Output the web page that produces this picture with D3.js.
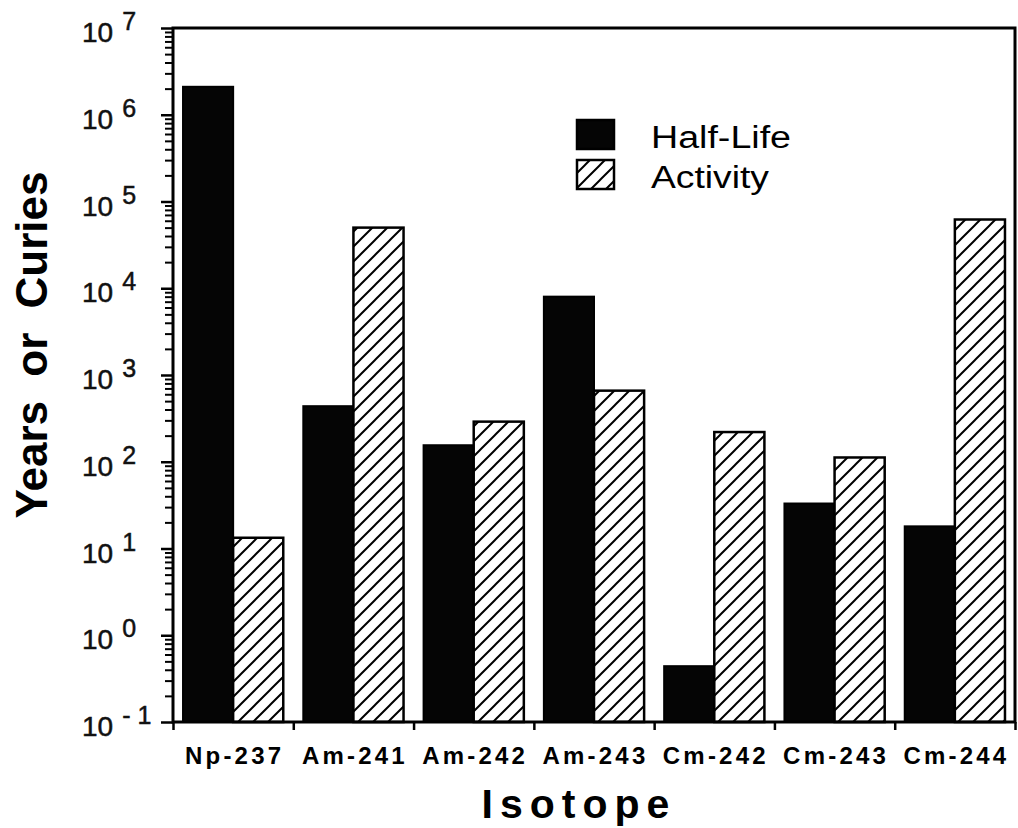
<!DOCTYPE html>
<html>
<head>
<meta charset="utf-8">
<script src="https://cdn.jsdelivr.net/npm/d3@7"></script>
<style>
  html, body { margin: 0; padding: 0; background: #fff; }
  svg { display: block; font-family: "Liberation Sans", Arial, Helvetica, sans-serif; }
</style>
</head>
<body>
<svg id="chart" width="1018" height="828"></svg>
<script>
// ---- data ----
const isotopes = ["Np-237", "Am-241", "Am-242", "Am-243", "Cm-242", "Cm-243", "Cm-244"];
const halfLife = [2.1e6, 437, 155, 8000, 0.44, 33, 18];
const activity = [13.3, 50000, 290, 660, 220, 112, 62000];
const seriesNames = ["Half-Life", "Activity"];
const decadeExponents = [-1, 0, 1, 2, 3, 4, 5, 6, 7];

// ---- layout ----
const svg = d3.select("#chart");
const plotLeft = 173, plotRight = 1015, plotTop = 28, plotBottom = 722;

const x = d3.scaleBand().domain(isotopes).range([plotLeft, plotRight]).padding(0);
const xs = d3.scaleBand().domain(seriesNames).range([0, x.bandwidth()]).paddingInner(0).paddingOuter(0.2);
const y = d3.scaleLog().domain([0.1, 1e7]).range([plotBottom, plotTop]);

// hatch pattern
const defs = svg.append("defs");
const pat = defs.append("pattern")
  .attr("id", "hatch").attr("patternUnits", "userSpaceOnUse")
  .attr("width", 15).attr("height", 15);
pat.append("rect").attr("width", 15).attr("height", 15).attr("fill", "#fff");
pat.append("path")
  .attr("d", "M0,15 L15,0 M-4,4 L4,-4 M11,19 L19,11")
  .attr("stroke", "#000").attr("stroke-width", 2);

// bars
const rows = isotopes.map((c, i) => ({ c, hl: halfLife[i], act: activity[i] }));
const g = svg.append("g");
g.selectAll("rect.hl").data(rows).join("rect")
  .attr("class", "hl")
  .attr("x", d => x(d.c) + xs("Half-Life"))
  .attr("y", d => y(d.hl))
  .attr("width", xs.bandwidth())
  .attr("height", d => y(0.1) - y(d.hl))
  .attr("fill", "#050505").attr("stroke", "#000").attr("stroke-width", 2);
g.selectAll("rect.act").data(rows).join("rect")
  .attr("class", "act")
  .attr("x", d => x(d.c) + xs("Activity"))
  .attr("y", d => y(d.act))
  .attr("width", xs.bandwidth())
  .attr("height", d => y(0.1) - y(d.act))
  .attr("fill", "url(#hatch)").attr("stroke", "#000").attr("stroke-width", 2.5);

// frame
svg.append("rect")
  .attr("x", plotLeft).attr("y", plotTop).attr("width", plotRight - plotLeft).attr("height", plotBottom - plotTop)
  .attr("fill", "none").attr("stroke", "#000").attr("stroke-width", 3);

// y axis ticks: minor then major
const minorTicks = [];
decadeExponents.slice(0, -1).forEach(e => { for (let k = 2; k <= 9; k++) minorTicks.push(k * Math.pow(10, e)); });
const majorTicks = decadeExponents.map(e => Math.pow(10, e));

const yMinor = svg.append("g").attr("transform", `translate(${plotLeft},0)`)
  .call(d3.axisLeft(y).tickValues(minorTicks).tickSize(8).tickFormat(""));
yMinor.select(".domain").remove();
yMinor.selectAll("line").attr("stroke-width", 2);

const yMajor = svg.append("g").attr("transform", `translate(${plotLeft},0)`)
  .call(d3.axisLeft(y).tickValues(majorTicks).tickSize(12).tickFormat(""));
yMajor.select(".domain").remove();
yMajor.selectAll("line").attr("stroke-width", 2.5);

// y tick labels with superscripts
const labels = svg.append("g");
decadeExponents.forEach(e => {
  const t = labels.append("text")
    .attr("x", 82).attr("y", y(Math.pow(10, e)) + 14)
    .attr("font-size", 28).attr("fill", "#111")
    .attr("stroke", "#111").attr("stroke-width", 0.5);
  t.append("tspan").text("10");
  t.append("tspan").attr("dx", 9).attr("dy", -12).attr("font-size", 25)
    .text(e < 0 ? "- " + Math.abs(e) : String(e));
});

// x axis: boundary ticks
const xb = d3.scaleLinear().domain([0, isotopes.length]).range([plotLeft, plotRight]);
const xTicks = svg.append("g").attr("transform", `translate(0,${plotBottom})`)
  .call(d3.axisBottom(xb).tickValues(d3.range(isotopes.length + 1)).tickSize(8).tickFormat(""));
xTicks.select(".domain").remove();
xTicks.selectAll("line").attr("stroke-width", 2.5);

// x category labels
const xLab = svg.append("g").attr("transform", `translate(0,${plotBottom})`)
  .call(d3.axisBottom(x).tickSize(0).tickPadding(25));
xLab.select(".domain").remove();
xLab.selectAll("text")
  .attr("font-size", 24).attr("font-weight", "bold").attr("letter-spacing", 3.2)
  .attr("dx", 1.5)
  .attr("fill", "#000").attr("font-family", "'Liberation Sans', Arial, sans-serif");

// axis titles
svg.append("text")
  .attr("x", 579).attr("y", 818)
  .attr("text-anchor", "middle")
  .attr("font-size", 41).attr("font-weight", "bold").attr("letter-spacing", 7)
  .text("Isotope");

svg.append("text")
  .attr("transform", "translate(47,345) rotate(-90)")
  .attr("text-anchor", "middle")
  .attr("font-size", 44).attr("font-weight", "bold").attr("word-spacing", 12)
  .text("Years or Curies");

// legend
const legend = svg.append("g");
const legendFill = ["#050505", "url(#hatch)"];
const legendWidths = [140, 118];
seriesNames.forEach((s, i) => {
  const ly = 120 + i * 40;
  legend.append("rect")
    .attr("x", 577).attr("y", ly).attr("width", 37).attr("height", 29)
    .attr("fill", legendFill[i]).attr("stroke", "#000").attr("stroke-width", 2.5);
  legend.append("text")
    .attr("x", 651).attr("y", ly + 28)
    .attr("font-size", 31)
    .attr("textLength", legendWidths[i]).attr("lengthAdjust", "spacingAndGlyphs")
    .text(s);
});
</script>
</body>
</html>
